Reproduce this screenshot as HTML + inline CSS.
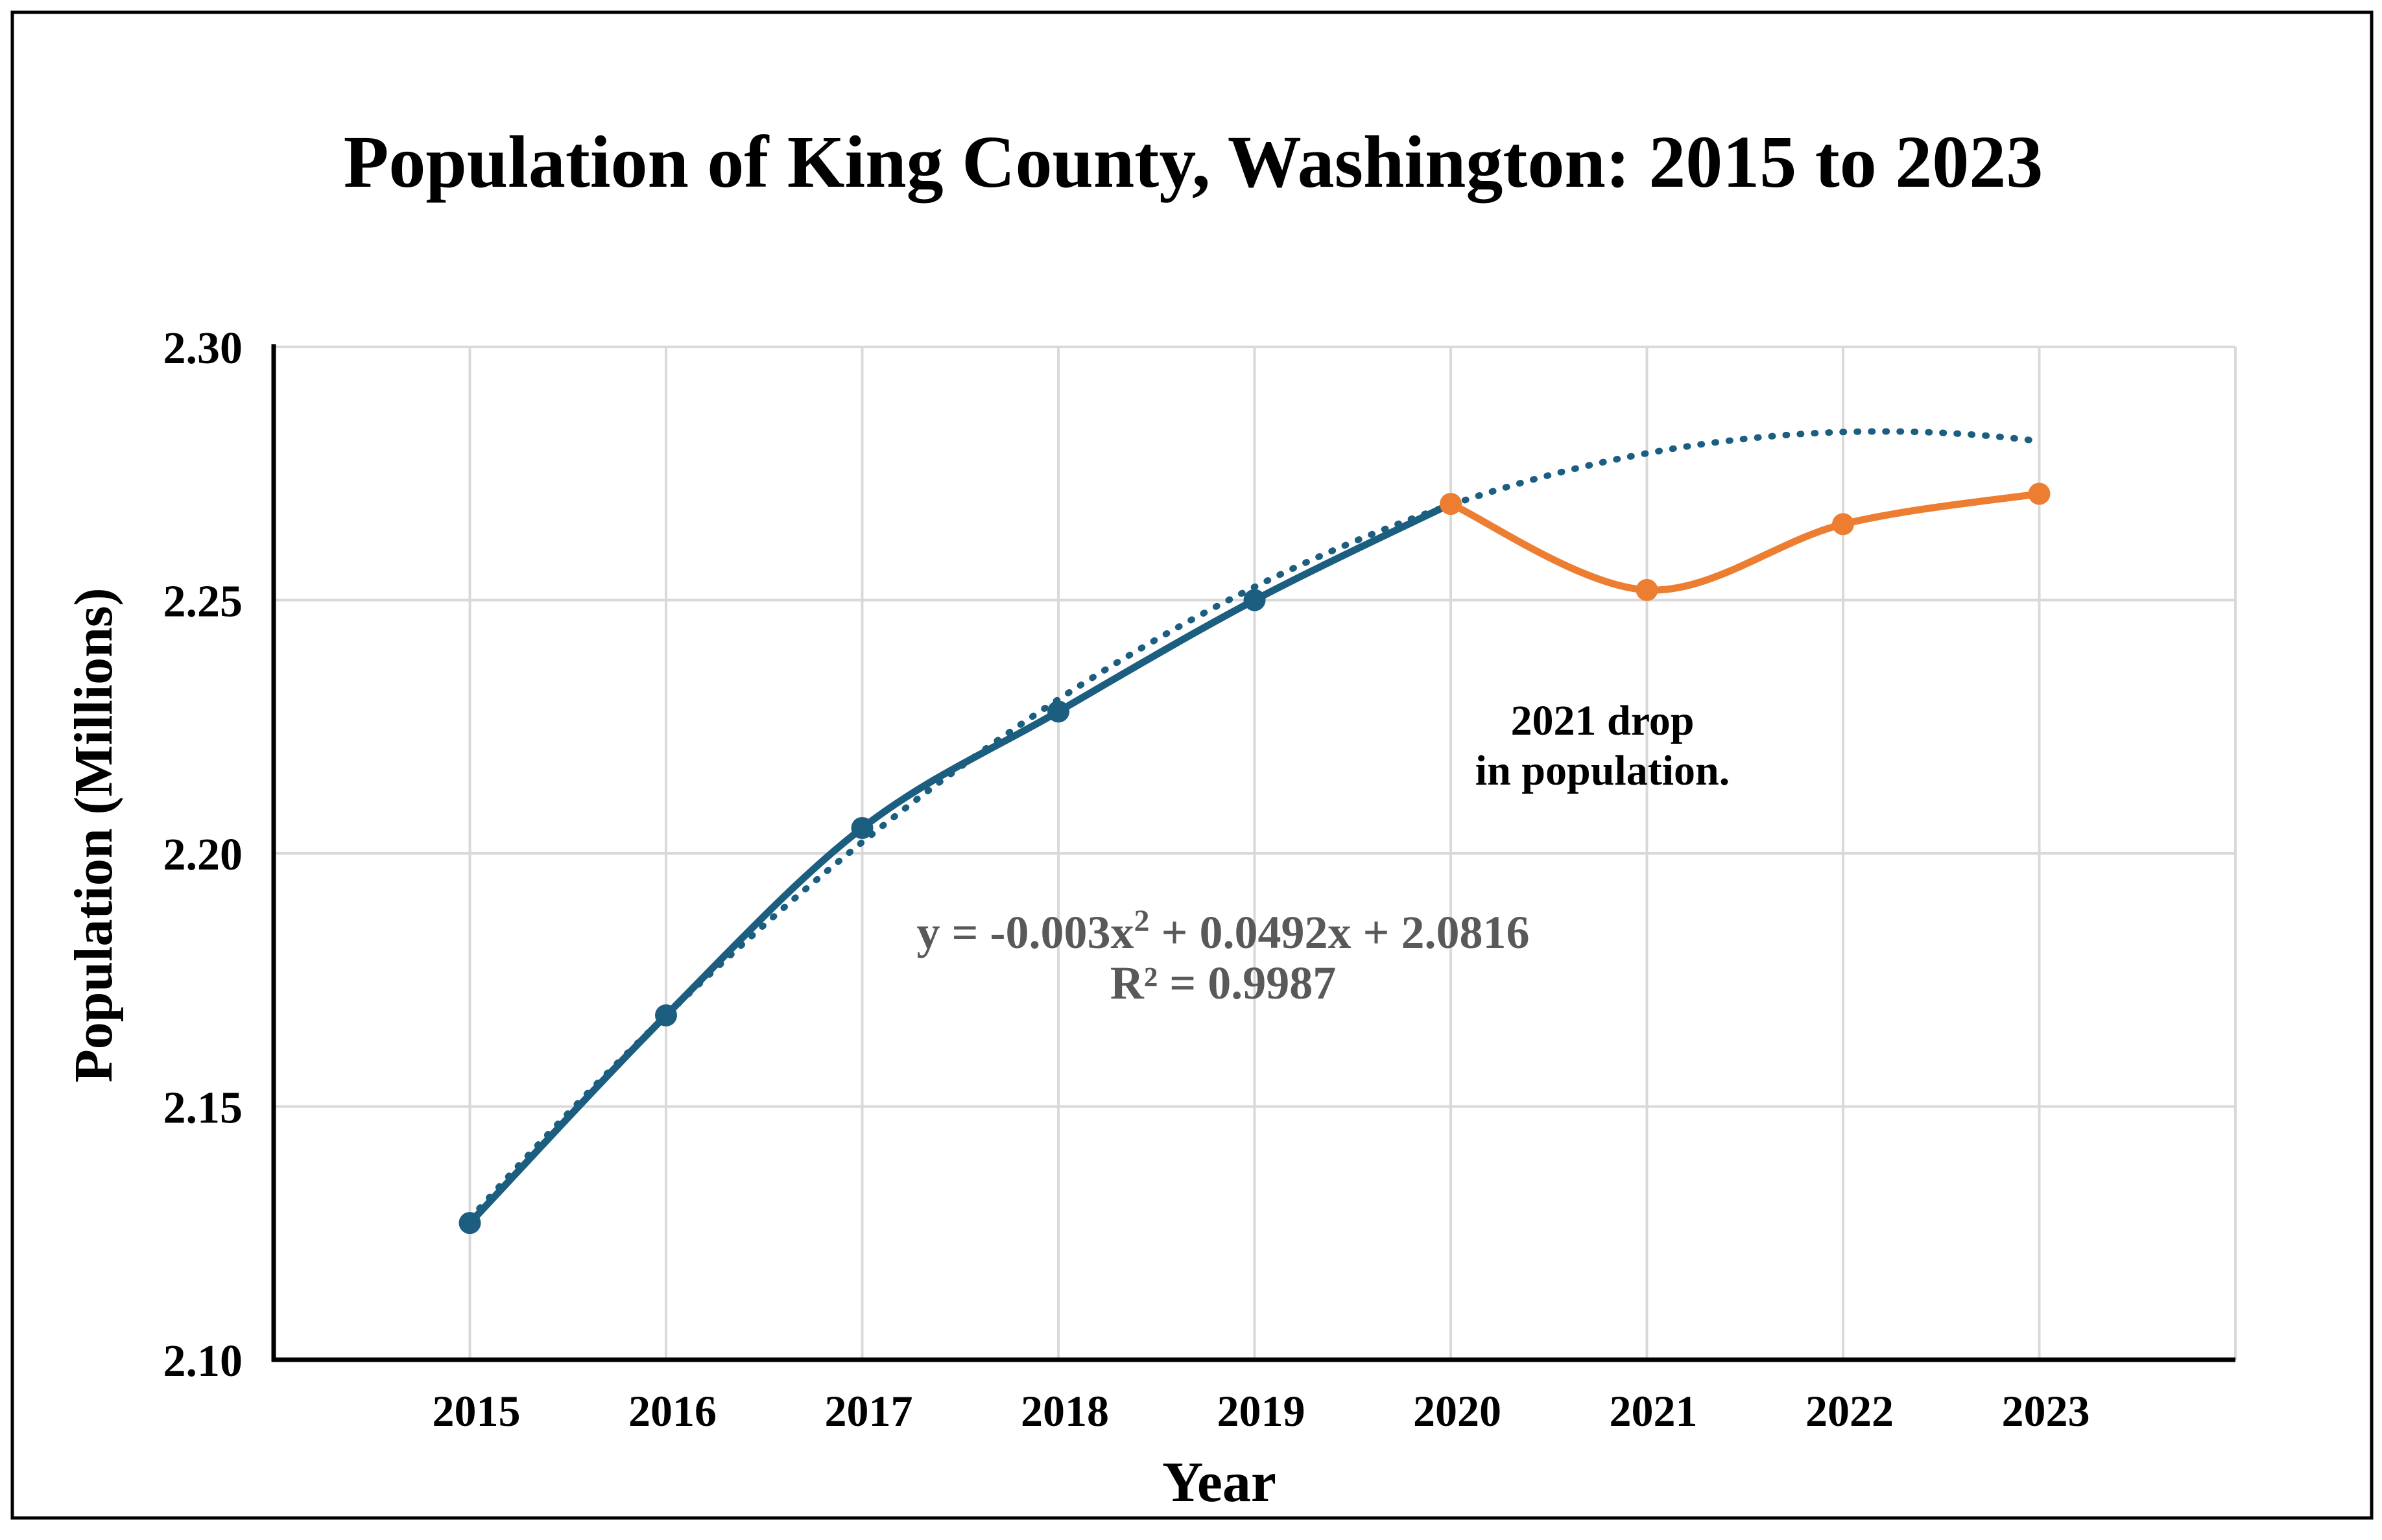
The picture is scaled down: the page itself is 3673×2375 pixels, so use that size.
<!DOCTYPE html>
<html><head><meta charset="utf-8"><style>
html,body{margin:0;padding:0;background:#fff;}
svg{display:block;font-family:"Liberation Serif",serif;font-weight:bold;}
</style></head><body>
<svg id="chart" width="3673" height="2375" viewBox="0 0 3673 2375">
<rect x="19" y="19" width="3638" height="2322" fill="#fff" stroke="#000" stroke-width="5"/>
<text x="1840" y="288" text-anchor="middle" font-size="114">Population of King County, Washington: 2015 to 2023</text>
<g id="grid"></g>
<g id="axes"></g>
<g id="series"></g>
<text x="1886" y="1462" text-anchor="middle" font-size="72" fill="#595959">y = -0.003x<tspan dy="-26" font-size="48">2</tspan><tspan dy="26"> + 0.0492x + 2.0816</tspan></text>
<text x="1886" y="1540" text-anchor="middle" font-size="72" fill="#595959">R² = 0.9987</text>
<text x="2471" y="1133" text-anchor="middle" font-size="66">2021 drop</text>
<text x="2471" y="1210" text-anchor="middle" font-size="66">in population.</text>
<text x="1880" y="2315" text-anchor="middle" font-size="88">Year</text>
<text transform="translate(172,1288) rotate(-90)" text-anchor="middle" font-size="84">Population (Millions)</text>
</svg>
<script>
const years = [2015,2016,2017,2018,2019,2020,2021,2022,2023];
const population = [2.127,2.168,2.205,2.228,2.250,2.269,2.252,2.265,2.271];
const yTicks = [2.10,2.15,2.20,2.25,2.30];
const yTickLabels = ["2.10","2.15","2.20","2.25","2.30"];
const trendCoef = [-0.003,0.0492,2.0816];
const splitYear = 2020;

const NS="http://www.w3.org/2000/svg";
const L=422,R=3447,T=535,B=2097,yMin=2.10,yMax=2.30,xMin=2014,xMax=2024;
const xs=v=>L+(v-xMin)/(xMax-xMin)*(R-L);
const ys=v=>B-(v-yMin)/(yMax-yMin)*(B-T);
function mk(tag,attrs,parent){const e=document.createElementNS(NS,tag);for(const k in attrs)e.setAttribute(k,attrs[k]);parent.appendChild(e);return e;}
const grid=document.getElementById('grid'),axes=document.getElementById('axes'),series=document.getElementById('series');
yTicks.forEach((t,i)=>{
  if(i>0){const g=mk('line',{x1:L,x2:R,y1:ys(t),y2:ys(t),stroke:'#d9d9d9','stroke-width':4},grid);
  
  }
  const tx=mk('text',{x:L-48,y:ys(t)+25,'text-anchor':'end','font-size':70},axes);tx.textContent=yTickLabels[i];
  
  
});
years.forEach(y=>{
  const g=mk('line',{x1:xs(y),x2:xs(y),y1:T,y2:B,stroke:'#d9d9d9','stroke-width':4},grid);
  
  
  const tx=mk('text',{x:xs(y)+10,y:B+102,'text-anchor':'middle','font-size':68},axes);tx.textContent=y;
  
  
});
const rg=mk('line',{x1:R,x2:R,y1:T,y2:B,stroke:'#d9d9d9','stroke-width':4},grid);


const ya=mk('line',{x1:L,x2:L,y1:T-4,y2:B+3,stroke:'#000','stroke-width':7},axes);


const xa=mk('line',{x1:L-3,x2:R,y1:B,y2:B,stroke:'#000','stroke-width':7},axes);



function smooth(pts){let d=`M${pts[0][0]},${pts[0][1]}`;for(let i=0;i<pts.length-1;i++){const p0=pts[i-1]||pts[i],p1=pts[i],p2=pts[i+1],p3=pts[i+2]||p2;const c1=[p1[0]+(p2[0]-p0[0])/6,p1[1]+(p2[1]-p0[1])/6],c2=[p2[0]-(p3[0]-p1[0])/6,p2[1]-(p3[1]-p1[1])/6];d+=` C${c1[0]},${c1[1]} ${c2[0]},${c2[1]} ${p2[0]},${p2[1]}`;}return d;}
const tp=[];for(let k=0;k<=80;k++){const x=1+k*0.1;const v=trendCoef[0]*x*x+trendCoef[1]*x+trendCoef[2];tp.push(xs(years[0]+x-1).toFixed(1)+','+ys(v).toFixed(1));}
const tl=mk('polyline',{points:tp.join(' '),fill:'none',stroke:'#1b5e80','stroke-width':10,'stroke-dasharray':'2 20','stroke-linecap':'round'},series);


const bluePts=[],orangePts=[];
years.forEach((y,i)=>{const p=[xs(y),ys(population[i])];if(y<=splitYear)bluePts.push(p);if(y>=splitYear)orangePts.push(p);});
const bl=mk('path',{d:smooth(bluePts),fill:'none',stroke:'#1b5e80','stroke-width':11},series);


const ol=mk('path',{d:smooth(orangePts),fill:'none',stroke:'#ed7d31','stroke-width':11},series);


years.forEach((y,i)=>{
  const c=mk('circle',{cx:xs(y),cy:ys(population[i]),r:17,fill:y>=splitYear?'#ed7d31':'#1b5e80'},series);
  
  
});
</script>
</body></html>
